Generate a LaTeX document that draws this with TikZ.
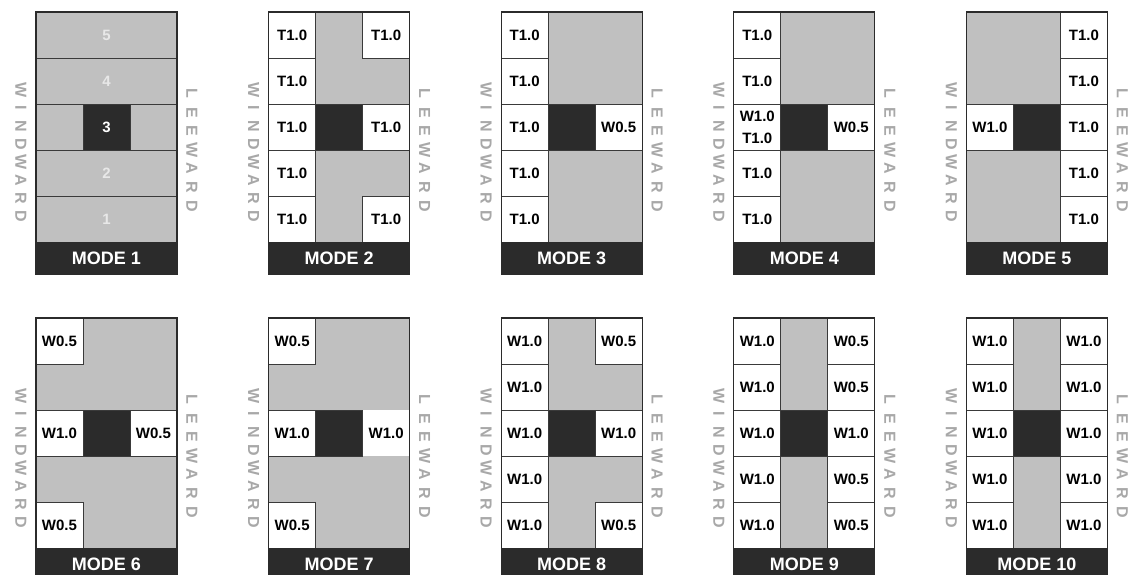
\documentclass[tikz,border=0pt]{standalone}
\usepackage{fontspec}
\setmainfont{Liberation Sans}

\definecolor{zonegray}{HTML}{C0C0C0}
\definecolor{coredark}{HTML}{2B2B2B}
\definecolor{sidegray}{HTML}{A8A8A8}
\definecolor{linegray}{HTML}{3A3A3A}
\definecolor{fadewhite}{HTML}{E8E8E8}

\tikzset{
  zone/.style={fill=zonegray},
  wallcell/.style={fill=white,draw=linegray,line width=0.8pt},
  core/.style={fill=coredark,draw=linegray,line width=0.8pt},
  frame/.style={draw=coredark,line width=1.3pt},
  modebar/.style={fill=coredark,draw=coredark,line width=1.3pt},
  rowline/.style={draw=linegray,line width=0.8pt},
  celltxt/.style={font=\fontsize{15}{22}\selectfont\bfseries,align=center,inner sep=0pt},
  modetxt/.style={text=white,font=\fontsize{18}{20}\selectfont\bfseries,inner sep=0pt},
  numtxt/.style={text=fadewhite,font=\fontsize{15}{17}\selectfont\bfseries,inner sep=0pt},
  sidetxt/.style={text=sidegray,rotate=-90,font=\fontsize{16}{18}\selectfont\bfseries,inner sep=0pt}
}

% white cell: column (0..2), row (1..5), text
\newcommand\wc[3]{%
  \draw[wallcell] (#1,#2-1) rectangle (#1+1,#2);
  \node[celltxt] (m\md-#1-#2) at (#1+0.5,#2-0.5) {#3};}

% one panel: left, top, mode number, cells
\newcommand\modepanel[4]{%
\begin{scope}[shift={(#1,#2)}]
  \def\md{#3}
  \foreach \ch [count=\k] in {W,I,N,D,W,A,R,D}
    \node[sidetxt] (m#3-wind\k) at (-15,60+18*\k) {\ch};
  \foreach \ch [count=\k] in {L,E,E,W,A,R,D}
    \node[sidetxt] (m#3-lee\k) at (156,63+18.7*\k) {\ch};
  \begin{scope}[x=47pt,y=-46.1pt]
    \fill[zone] (0,0) rectangle (3,5);
    \draw[core] (1,2) rectangle (2,3);
    #4
    \draw[frame] (0,0) rectangle (3,5);
    \draw[modebar] (0,5) rectangle (3,5.7);
    \node[modetxt] (mode#3) at (1.5,5.35) {MODE #3};
  \end{scope}
\end{scope}}

\begin{document}
\begin{tikzpicture}[x=1pt,y=-1pt]
\useasboundingbox (0,0) rectangle (1132,575);
\fill[white] (0,0) rectangle (1132,575);
\clip (0,0) rectangle (1132,575);

% top row
\modepanel{36}{12}{1}{%
  \draw[rowline] (0,1) -- (3,1) (0,2) -- (3,2) (0,3) -- (3,3) (0,4) -- (3,4);
  \foreach \n/\r in {5/1,4/2,2/4,1/5}
    \node[numtxt] (m1-n\n) at (1.5,\r-0.5) {\n};
  \node[numtxt,text=white] (m1-n3) at (1.5,2.5) {3};}

\modepanel{268.6}{12}{2}{%
  \foreach \r in {1,...,5} {\wc{0}{\r}{T1.0}}
  \foreach \r in {1,3,5} {\wc{2}{\r}{T1.0}}}

\modepanel{501.2}{12}{3}{%
  \foreach \r in {1,...,5} {\wc{0}{\r}{T1.0}}
  \wc{2}{3}{W0.5}}

\modepanel{733.8}{12}{4}{%
  \foreach \r in {1,2,4,5} {\wc{0}{\r}{T1.0}}
  \wc{0}{3}{W1.0\\T1.0}
  \wc{2}{3}{W0.5}}

\modepanel{966.4}{12}{5}{%
  \wc{0}{3}{W1.0}
  \foreach \r in {1,...,5} {\wc{2}{\r}{T1.0}}}

% bottom row
\modepanel{36}{318}{6}{%
  \wc{0}{1}{W0.5}
  \wc{0}{3}{W1.0}
  \wc{0}{5}{W0.5}
  \wc{2}{3}{W0.5}}

\modepanel{268.6}{318}{7}{%
  \wc{0}{1}{W0.5}
  \wc{0}{3}{W1.0}
  \wc{0}{5}{W0.5}
  \fill[white] (2,2) rectangle (3,3);
  \node[celltxt] (m7-2-3) at (2.5,2.5) {W1.0};}

\modepanel{501.2}{318}{8}{%
  \foreach \r in {1,...,5} {\wc{0}{\r}{W1.0}}
  \wc{2}{1}{W0.5}
  \wc{2}{3}{W1.0}
  \wc{2}{5}{W0.5}}

\modepanel{733.8}{318}{9}{%
  \foreach \r in {1,...,5} {\wc{0}{\r}{W1.0}}
  \foreach \r in {1,2,4,5} {\wc{2}{\r}{W0.5}}
  \wc{2}{3}{W1.0}}

\modepanel{966.4}{318}{10}{%
  \foreach \r in {1,...,5} {\wc{0}{\r}{W1.0}}
  \foreach \r in {1,...,5} {\wc{2}{\r}{W1.0}}}
\end{tikzpicture}
\end{document}
